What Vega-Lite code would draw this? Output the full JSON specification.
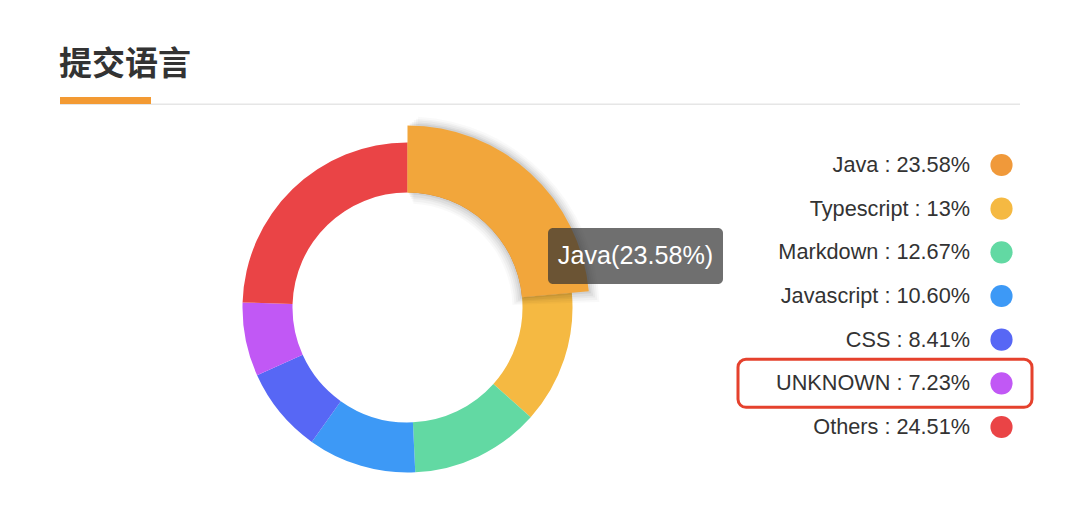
{
  "$schema": "https://vega.github.io/schema/vega-lite/v6.json",
  "width": 1080,
  "height": 532,
  "autosize": {"type": "fit", "contains": "padding"},
  "padding": 0,
  "background": "white",
  "config": {"view": {"stroke": null}, "font": "Liberation Sans"},
  "datasets": {
    "langs": [
      {"rank": 1, "lang": "Java", "pct": 23.58, "label": "Java : 23.58%"},
      {"rank": 2, "lang": "Typescript", "pct": 13, "label": "Typescript : 13%"},
      {"rank": 3, "lang": "Markdown", "pct": 12.67, "label": "Markdown : 12.67%"},
      {"rank": 4, "lang": "Javascript", "pct": 10.60, "label": "Javascript : 10.60%"},
      {"rank": 5, "lang": "CSS", "pct": 8.41, "label": "CSS : 8.41%"},
      {"rank": 6, "lang": "UNKNOWN", "pct": 7.23, "label": "UNKNOWN : 7.23%"},
      {"rank": 7, "lang": "Others", "pct": 24.51, "label": "Others : 24.51%"}
    ]
  },
  "data": {"name": "langs"},
  "layer": [
    {
      "data": {"values": [{}]},
      "mark": {"type": "text", "text": "提交语言", "font": "Noto Sans CJK SC", "fontWeight": "bold", "fontSize": 33, "fill": "#333333", "x": 59, "y": 74.5, "align": "left", "baseline": "alphabetic"},
      "encoding": {}
    },
    {
      "data": {"values": [{}]},
      "mark": {"type": "rect", "x": 60, "x2": 1020, "y": 103.5, "y2": 105, "fill": "#e6e6e6"},
      "encoding": {}
    },
    {
      "data": {"values": [{}]},
      "mark": {"type": "rect", "x": 60, "x2": 151, "y": 97, "y2": 104, "fill": "#F39A33"},
      "encoding": {}
    },
    {
      "mark": {"type": "arc", "x": 407.5, "y": 307.5, "innerRadius": 115, "outerRadius": 165},
      "encoding": {
        "theta": {"field": "pct", "type": "quantitative", "stack": true},
        "order": {"field": "rank", "type": "quantitative"},
        "color": {"field": "lang", "type": "nominal", "legend": null,
          "scale": {"domain": ["Java", "Typescript", "Markdown", "Javascript", "CSS", "UNKNOWN", "Others"],
                    "range": ["#F0993A", "#F5B942", "#62D9A3", "#3D99F6", "#5767F5", "#C158F5", "#EA4446"]}}
      }
    },
    {
      "mark": {"type": "arc", "x": 407.5, "y": 308.5, "innerRadius": 105, "outerRadius": 192, "thetaOffset": 0.055, "theta2Offset": -0.06, "fill": "#000000"},
      "encoding": {
        "theta": {"field": "pct", "type": "quantitative", "stack": true},
        "order": {"field": "rank", "type": "quantitative"},
        "opacity": {"condition": {"test": "datum.lang === 'Java'", "value": 0.025}, "value": 0}
      }
    },
    {
      "mark": {"type": "arc", "x": 407.5, "y": 308.5, "innerRadius": 107, "outerRadius": 190, "thetaOffset": 0.045, "theta2Offset": -0.048, "fill": "#000000"},
      "encoding": {
        "theta": {"field": "pct", "type": "quantitative", "stack": true},
        "order": {"field": "rank", "type": "quantitative"},
        "opacity": {"condition": {"test": "datum.lang === 'Java'", "value": 0.03}, "value": 0}
      }
    },
    {
      "mark": {"type": "arc", "x": 407.5, "y": 308, "innerRadius": 109, "outerRadius": 188, "thetaOffset": 0.034, "theta2Offset": -0.036, "fill": "#000000"},
      "encoding": {
        "theta": {"field": "pct", "type": "quantitative", "stack": true},
        "order": {"field": "rank", "type": "quantitative"},
        "opacity": {"condition": {"test": "datum.lang === 'Java'", "value": 0.035}, "value": 0}
      }
    },
    {
      "mark": {"type": "arc", "x": 407.5, "y": 308, "innerRadius": 111, "outerRadius": 186, "thetaOffset": 0.023, "theta2Offset": -0.024, "fill": "#000000"},
      "encoding": {
        "theta": {"field": "pct", "type": "quantitative", "stack": true},
        "order": {"field": "rank", "type": "quantitative"},
        "opacity": {"condition": {"test": "datum.lang === 'Java'", "value": 0.045}, "value": 0}
      }
    },
    {
      "mark": {"type": "arc", "x": 407.5, "y": 307.5, "innerRadius": 113, "outerRadius": 184, "thetaOffset": 0.012, "theta2Offset": -0.012, "fill": "#000000"},
      "encoding": {
        "theta": {"field": "pct", "type": "quantitative", "stack": true},
        "order": {"field": "rank", "type": "quantitative"},
        "opacity": {"condition": {"test": "datum.lang === 'Java'", "value": 0.06}, "value": 0}
      }
    },
    {
      "mark": {"type": "arc", "x": 407.5, "y": 307.5, "innerRadius": 115, "outerRadius": 182, "fill": "#F2A63B"},
      "encoding": {
        "theta": {"field": "pct", "type": "quantitative", "stack": true},
        "order": {"field": "rank", "type": "quantitative"},
        "opacity": {"condition": {"test": "datum.lang === 'Java'", "value": 1}, "value": 0}
      }
    },
    {
      "data": {"values": [{}]},
      "mark": {"type": "rect", "x": 548, "x2": 723, "y": 228, "y2": 284, "fill": "#323232", "fillOpacity": 0.7, "cornerRadius": 5},
      "encoding": {}
    },
    {
      "data": {"values": [{}]},
      "mark": {"type": "text", "text": "Java(23.58%)", "x": 635.5, "y": 256, "align": "center", "baseline": "middle", "fontSize": 25.2, "fill": "#ffffff"},
      "encoding": {}
    },
    {
      "mark": {"type": "text", "x": 970, "align": "right", "baseline": "middle", "fontSize": 21.7, "fill": "#333333"},
      "encoding": {
        "y": {"field": "lang", "type": "nominal", "axis": null,
          "scale": {"type": "point", "padding": 0, "domain": ["Java", "Typescript", "Markdown", "Javascript", "CSS", "UNKNOWN", "Others"], "range": [165, 427]}},
        "text": {"field": "label", "type": "nominal"}
      }
    },
    {
      "mark": {"type": "circle", "x": 1001.5, "size": 491, "opacity": 1},
      "encoding": {
        "y": {"field": "lang", "type": "nominal", "axis": null,
          "scale": {"type": "point", "padding": 0, "domain": ["Java", "Typescript", "Markdown", "Javascript", "CSS", "UNKNOWN", "Others"], "range": [165, 427]}},
        "color": {"field": "lang", "type": "nominal", "legend": null}
      }
    },
    {
      "transform": [{"filter": "datum.lang === 'UNKNOWN'"}],
      "mark": {"type": "rect", "x": 738, "x2": 1032, "height": 48, "fill": "transparent", "stroke": "#E5412D", "strokeWidth": 3, "cornerRadius": 8},
      "encoding": {
        "y": {"field": "lang", "type": "nominal", "axis": null,
          "scale": {"type": "point", "padding": 0, "domain": ["Java", "Typescript", "Markdown", "Javascript", "CSS", "UNKNOWN", "Others"], "range": [165, 427]}}
      }
    }
  ]
}
